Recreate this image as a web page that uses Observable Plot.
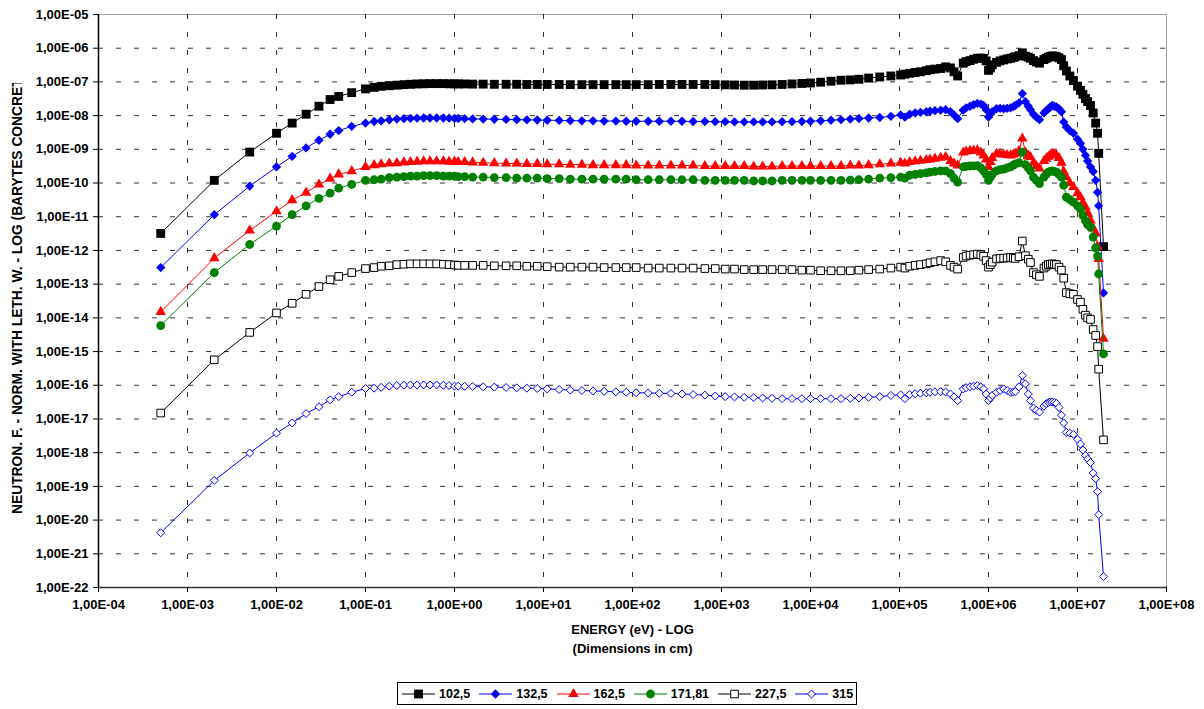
<!DOCTYPE html>
<html><head><meta charset="utf-8">
<script src="https://cdn.jsdelivr.net/npm/d3@7"></script>
<script src="https://cdn.jsdelivr.net/npm/@observablehq/plot@0.6"></script>
<style>
body{margin:0;background:#fff;font-family:"Liberation Sans",Arial,sans-serif;}
#chart svg{display:block;}
#legend{position:relative;margin-left:397px;margin-top:10px;width:460px;height:23px;border:1px solid #000;box-sizing:border-box;display:flex;align-items:center;padding-left:4px;font-weight:bold;font-size:12.5px;}
#legend .item{display:flex;align-items:center;margin-right:9px;}
#legend .item svg{margin-right:4px;}
</style></head><body>
<div id="chart"></div>
<div id="legend"></div>
<script>
// ---- data ----
const energy = [
 5e-4, 2e-3, 5e-3, 1e-2, 1.5e-2, 2.15e-2, 3e-2, 4e-2, 5e-2, 7e-2,
 0.1, 0.125, 0.15, 0.185, 0.225, 0.27, 0.32, 0.38, 0.45, 0.53,
 0.63, 0.75, 0.87, 1.0, 1.1, 1.3, 1.6, 2.1, 2.8, 3.8,
 5, 6.5, 8.5, 11, 15, 20, 27, 36, 48, 65,
 85, 110, 150, 200, 270, 360, 480, 650, 850, 1100,
 1400, 1800, 2300, 2900, 3700, 4800, 6200, 8000, 1e4, 1.3e4,
 1.7e4, 2.2e4, 2.8e4, 3.5e4, 4.5e4, 6e4, 8e4, 1.03e5, 1.15e5, 1.3e5,
 1.5e5, 1.72e5, 2.0e5, 2.2e5, 2.5e5, 2.9e5, 3.3e5, 3.74e5, 4.1e5, 4.5e5,
 5.2e5, 5.6e5, 6.2e5, 6.8e5, 7.5e5, 8.2e5, 8.8e5, 9.4e5, 1.0e6, 1.05e6,
 1.1e6, 1.23e6, 1.35e6, 1.48e6, 1.62e6, 1.77e6, 1.9e6, 2.0e6, 2.2e6, 2.4e6,
 2.6e6, 2.8e6, 2.96e6, 3.2e6, 3.45e6, 3.74e6, 4.2e6, 4.45e6, 4.7e6, 4.95e6,
 5.2e6, 5.5e6, 5.8e6, 6.2e6, 6.6e6, 7.0e6, 7.5e6, 8.2e6, 9.0e6, 1.0e7,
 1.08e7, 1.15e7, 1.23e7, 1.3e7, 1.4e7, 1.5e7, 1.6e7, 1.68e7, 1.73e7, 1.96e7
];
const s102_5 = [
 3.2e-12, 1.2e-10, 8.3e-10, 3.0e-9, 6.0e-9, 1.1e-8, 1.9e-8, 3.0e-8, 3.7e-8, 4.8e-8,
 6.2e-8, 6.9e-8, 7.4e-8, 7.7e-8, 8.0e-8, 8.3e-8, 8.5e-8, 8.7e-8, 8.8e-8, 8.9e-8,
 8.9e-8, 8.9e-8, 8.8e-8, 8.8e-8, 8.7e-8, 8.7e-8, 8.6e-8, 8.6e-8, 8.5e-8, 8.5e-8,
 8.5e-8, 8.4e-8, 8.4e-8, 8.4e-8, 8.4e-8, 8.3e-8, 8.3e-8, 8.3e-8, 8.3e-8, 8.3e-8,
 8.3e-8, 8.3e-8, 8.3e-8, 8.4e-8, 8.4e-8, 8.4e-8, 8.4e-8, 8.4e-8, 8.3e-8, 8.2e-8,
 8.1e-8, 8.0e-8, 8.0e-8, 8.1e-8, 8.2e-8, 8.4e-8, 8.7e-8, 9.0e-8, 9.3e-8, 9.8e-8,
 1.05e-7, 1.12e-7, 1.15e-7, 1.2e-7, 1.3e-7, 1.4e-7, 1.5e-7, 1.6e-7, 1.7e-7, 1.8e-7,
 1.9e-7, 2.0e-7, 2.15e-7, 2.3e-7, 2.4e-7, 2.5e-7, 2.8e-7, 2.6e-7, 2.0e-7, 1.5e-7,
 3.6e-7, 4.0e-7, 4.3e-7, 4.7e-7, 5.0e-7, 5.1e-7, 5.0e-7, 4.2e-7, 2.2e-7, 2.6e-7,
 3.2e-7, 3.8e-7, 4.2e-7, 4.5e-7, 4.8e-7, 5.0e-7, 5.3e-7, 5.6e-7, 6.0e-7, 7.3e-7,
 5.8e-7, 5.4e-7, 5.0e-7, 4.3e-7, 3.9e-7, 3.6e-7, 4.6e-7, 5.0e-7, 5.4e-7, 5.7e-7,
 5.9e-7, 5.8e-7, 5.6e-7, 5.2e-7, 4.6e-7, 3.0e-7, 2.1e-7, 1.5e-7, 1.1e-7, 7.5e-8,
 5.6e-8, 4.3e-8, 3.2e-8, 2.6e-8, 2.0e-8, 1.2e-8, 6.0e-9, 3.0e-9, 7.6e-10, 1.3e-12
];
const s132_5 = [
 3.1e-13, 1.15e-11, 8.1e-11, 3.0e-10, 6.2e-10, 1.1e-9, 1.86e-9, 2.8e-9, 3.6e-9, 4.8e-9,
 6.0e-9, 6.7e-9, 7.0e-9, 7.5e-9, 7.9e-9, 8.1e-9, 8.3e-9, 8.4e-9, 8.5e-9, 8.5e-9,
 8.5e-9, 8.5e-9, 8.4e-9, 8.3e-9, 8.2e-9, 8.1e-9, 8.0e-9, 7.9e-9, 7.8e-9, 7.7e-9,
 7.6e-9, 7.5e-9, 7.4e-9, 7.3e-9, 7.2e-9, 7.1e-9, 7.0e-9, 7.0e-9, 6.9e-9, 6.9e-9,
 6.8e-9, 6.8e-9, 6.8e-9, 6.8e-9, 6.8e-9, 6.8e-9, 6.7e-9, 6.7e-9, 6.6e-9, 6.6e-9,
 6.5e-9, 6.5e-9, 6.5e-9, 6.5e-9, 6.5e-9, 6.6e-9, 6.6e-9, 6.7e-9, 6.8e-9, 7.0e-9,
 7.3e-9, 7.6e-9, 7.9e-9, 8.2e-9, 8.5e-9, 8.8e-9, 9.5e-9, 1.05e-8, 9.0e-9, 1.1e-8,
 1.2e-8, 1.25e-8, 1.3e-8, 1.35e-8, 1.4e-8, 1.45e-8, 1.5e-8, 1.3e-8, 1.05e-8, 8.1e-9,
 1.45e-8, 1.7e-8, 1.9e-8, 2.1e-8, 2.3e-8, 2.2e-8, 2.0e-8, 1.5e-8, 9.1e-9, 1.1e-8,
 1.3e-8, 1.6e-8, 1.65e-8, 1.6e-8, 1.65e-8, 1.7e-8, 1.85e-8, 2.0e-8, 2.4e-8, 4.5e-8,
 2.6e-8, 1.9e-8, 1.5e-8, 1.1e-8, 9.0e-9, 7.6e-9, 1.2e-8, 1.4e-8, 1.6e-8, 1.8e-8,
 2.0e-8, 1.9e-8, 1.8e-8, 1.6e-8, 1.3e-8, 6.5e-9, 4.6e-9, 3.6e-9, 3.0e-9, 2.0e-9,
 1.5e-9, 1.0e-9, 6.6e-10, 4.5e-10, 3.0e-10, 2.2e-10, 1.2e-10, 5.3e-11, 2.1e-11, 5.5e-14
];
const s162_5 = [
 1.5e-14, 5.9e-13, 3.9e-12, 1.45e-11, 3.1e-11, 5.2e-11, 9.0e-11, 1.35e-10, 1.8e-10, 2.25e-10,
 3.0e-10, 3.4e-10, 3.6e-10, 3.8e-10, 3.9e-10, 4.1e-10, 4.2e-10, 4.3e-10, 4.4e-10, 4.4e-10,
 4.4e-10, 4.4e-10, 4.3e-10, 4.3e-10, 4.2e-10, 4.2e-10, 4.1e-10, 4.0e-10, 3.9e-10, 3.8e-10,
 3.8e-10, 3.7e-10, 3.7e-10, 3.6e-10, 3.6e-10, 3.5e-10, 3.5e-10, 3.4e-10, 3.4e-10, 3.4e-10,
 3.4e-10, 3.3e-10, 3.3e-10, 3.3e-10, 3.3e-10, 3.3e-10, 3.3e-10, 3.2e-10, 3.2e-10, 3.2e-10,
 3.2e-10, 3.2e-10, 3.1e-10, 3.1e-10, 3.1e-10, 3.2e-10, 3.2e-10, 3.2e-10, 3.2e-10, 3.2e-10,
 3.2e-10, 3.2e-10, 3.3e-10, 3.3e-10, 3.4e-10, 3.6e-10, 3.8e-10, 4.0e-10, 3.8e-10, 4.2e-10,
 4.4e-10, 4.6e-10, 4.8e-10, 5.0e-10, 5.3e-10, 5.6e-10, 5.9e-10, 4.5e-10, 3.8e-10, 3.3e-10,
 8.0e-10, 8.6e-10, 9.0e-10, 9.2e-10, 9.3e-10, 8.0e-10, 6.6e-10, 5.0e-10, 3.0e-10, 4.2e-10,
 5.5e-10, 7.4e-10, 7.2e-10, 7.0e-10, 6.8e-10, 6.6e-10, 7.0e-10, 7.4e-10, 9.0e-10, 2.1e-9,
 8.0e-10, 6.5e-10, 5.9e-10, 4.0e-10, 3.2e-10, 2.7e-10, 4.5e-10, 5.3e-10, 6.0e-10, 6.8e-10,
 7.4e-10, 7.0e-10, 6.6e-10, 5.5e-10, 4.0e-10, 2.2e-10, 1.5e-10, 1.0e-10, 7.6e-11, 5.0e-11,
 3.8e-11, 2.6e-11, 1.9e-11, 1.3e-11, 7.8e-12, 4.5e-12, 3.2e-12, 1.3e-12, 5.6e-13, 2.4e-15
];
const s171_81 = [
 5.9e-15, 2.2e-13, 1.5e-12, 5.3e-12, 1.15e-11, 2.1e-11, 3.5e-11, 5.0e-11, 7.1e-11, 9.1e-11,
 1.2e-10, 1.25e-10, 1.3e-10, 1.45e-10, 1.5e-10, 1.55e-10, 1.6e-10, 1.6e-10, 1.65e-10, 1.65e-10,
 1.65e-10, 1.6e-10, 1.6e-10, 1.6e-10, 1.55e-10, 1.55e-10, 1.5e-10, 1.5e-10, 1.45e-10, 1.45e-10,
 1.4e-10, 1.4e-10, 1.4e-10, 1.35e-10, 1.35e-10, 1.3e-10, 1.3e-10, 1.3e-10, 1.3e-10, 1.3e-10,
 1.3e-10, 1.25e-10, 1.25e-10, 1.25e-10, 1.25e-10, 1.25e-10, 1.25e-10, 1.2e-10, 1.2e-10, 1.2e-10,
 1.2e-10, 1.2e-10, 1.15e-10, 1.15e-10, 1.15e-10, 1.2e-10, 1.2e-10, 1.2e-10, 1.2e-10, 1.2e-10,
 1.2e-10, 1.2e-10, 1.22e-10, 1.25e-10, 1.3e-10, 1.4e-10, 1.45e-10, 1.5e-10, 1.4e-10, 1.7e-10,
 1.8e-10, 1.9e-10, 2.0e-10, 2.1e-10, 2.2e-10, 2.3e-10, 2.3e-10, 1.9e-10, 1.4e-10, 1.07e-10,
 3.0e-10, 3.1e-10, 3.2e-10, 3.25e-10, 3.3e-10, 2.8e-10, 2.3e-10, 1.8e-10, 1.2e-10, 1.5e-10,
 1.8e-10, 2.3e-10, 2.5e-10, 2.6e-10, 2.8e-10, 3.0e-10, 3.4e-10, 3.7e-10, 4.0e-10, 8.3e-10,
 3.5e-10, 2.8e-10, 2.3e-10, 1.5e-10, 1.2e-10, 9.6e-11, 1.5e-10, 1.8e-10, 2.1e-10, 2.2e-10,
 2.3e-10, 2.2e-10, 2.1e-10, 1.8e-10, 1.5e-10, 8.6e-11, 3.8e-11, 3.2e-11, 2.7e-11, 2.1e-11,
 1.7e-11, 1.1e-11, 7.6e-12, 5.8e-12, 4.9e-12, 2.5e-12, 1.2e-12, 6.8e-13, 2.0e-13, 8.5e-16
];
const s227_5 = [
 1.5e-17, 5.7e-16, 3.7e-15, 1.4e-14, 2.7e-14, 5.0e-14, 8.5e-14, 1.35e-13, 1.7e-13, 2.2e-13,
 2.9e-13, 3.1e-13, 3.4e-13, 3.5e-13, 3.8e-13, 3.9e-13, 4.0e-13, 4.0e-13, 4.0e-13, 4.0e-13,
 4.0e-13, 3.9e-13, 3.8e-13, 3.7e-13, 3.6e-13, 3.6e-13, 3.6e-13, 3.6e-13, 3.5e-13, 3.5e-13,
 3.5e-13, 3.4e-13, 3.4e-13, 3.3e-13, 3.2e-13, 3.2e-13, 3.2e-13, 3.2e-13, 3.1e-13, 3.1e-13,
 3.1e-13, 3.1e-13, 3.0e-13, 3.0e-13, 3.0e-13, 3.0e-13, 3.0e-13, 2.9e-13, 2.9e-13, 2.8e-13,
 2.8e-13, 2.7e-13, 2.7e-13, 2.7e-13, 2.7e-13, 2.7e-13, 2.7e-13, 2.6e-13, 2.6e-13, 2.5e-13,
 2.5e-13, 2.5e-13, 2.5e-13, 2.6e-13, 2.7e-13, 2.8e-13, 3.0e-13, 3.2e-13, 3.0e-13, 3.4e-13,
 3.6e-13, 3.8e-13, 4.0e-13, 4.3e-13, 4.6e-13, 5.0e-13, 4.6e-13, 3.6e-13, 3.2e-13, 2.8e-13,
 6.2e-13, 6.8e-13, 7.2e-13, 7.5e-13, 7.8e-13, 7.4e-13, 6.7e-13, 5.0e-13, 3.2e-13, 3.8e-13,
 4.5e-13, 5.6e-13, 5.8e-13, 5.9e-13, 6.0e-13, 6.2e-13, 6.0e-13, 5.8e-13, 6.5e-13, 1.9e-12,
 7.0e-13, 5.5e-13, 4.4e-13, 2.2e-13, 1.9e-13, 1.7e-13, 3.0e-13, 3.4e-13, 3.8e-13, 3.9e-13,
 4.0e-13, 3.9e-13, 3.8e-13, 3.2e-13, 2.6e-13, 1.5e-13, 5.6e-14, 5.2e-14, 5.0e-14, 3.5e-14,
 2.9e-14, 1.8e-14, 1.2e-14, 1.0e-14, 9.0e-15, 4.5e-15, 3.0e-15, 1.4e-15, 3.0e-16, 2.4e-18
];
const s315 = [
 4.2e-21, 1.5e-19, 9.8e-19, 3.8e-18, 7.6e-18, 1.45e-17, 2.3e-17, 3.7e-17, 4.6e-17, 6.2e-17,
 8.0e-17, 8.2e-17, 8.7e-17, 9.4e-17, 9.8e-17, 1.0e-16, 1.02e-16, 1.02e-16, 1.02e-16, 1.02e-16,
 1.02e-16, 1.0e-16, 9.8e-17, 9.4e-17, 9.4e-17, 9.3e-17, 9.2e-17, 9.0e-17, 8.8e-17, 8.6e-17,
 8.4e-17, 8.2e-17, 8.0e-17, 7.8e-17, 7.5e-17, 7.2e-17, 7.0e-17, 6.8e-17, 6.6e-17, 6.4e-17,
 6.2e-17, 6.0e-17, 5.9e-17, 5.8e-17, 5.7e-17, 5.5e-17, 5.3e-17, 5.1e-17, 4.8e-17, 4.6e-17,
 4.5e-17, 4.4e-17, 4.3e-17, 4.2e-17, 4.1e-17, 4.0e-17, 4.0e-17, 4.0e-17, 4.0e-17, 4.0e-17,
 4.0e-17, 4.0e-17, 4.1e-17, 4.2e-17, 4.4e-17, 4.6e-17, 5.0e-17, 5.2e-17, 4.0e-17, 5.3e-17,
 5.6e-17, 5.8e-17, 6.0e-17, 6.2e-17, 6.4e-17, 6.5e-17, 6.3e-17, 5.5e-17, 4.5e-17, 3.5e-17,
 7.8e-17, 8.5e-17, 9.0e-17, 9.4e-17, 9.8e-17, 9.0e-17, 7.8e-17, 5.5e-17, 3.5e-17, 4.2e-17,
 5.0e-17, 6.2e-17, 7.0e-17, 7.8e-17, 7.0e-17, 6.2e-17, 6.3e-17, 6.5e-17, 9.0e-17, 1.95e-16,
 1.1e-16, 5.5e-17, 3.5e-17, 2.1e-17, 1.8e-17, 1.6e-17, 2.4e-17, 2.8e-17, 3.1e-17, 3.2e-17,
 3.2e-17, 3.1e-17, 2.9e-17, 2.2e-17, 1.3e-17, 7.6e-18, 4.0e-18, 3.8e-18, 3.5e-18, 2.5e-18,
 1.8e-18, 1.2e-18, 8.2e-19, 6.5e-19, 5.1e-19, 2.5e-19, 1.7e-19, 7.0e-20, 1.45e-20, 2.1e-22
];
const seriesNames = ["102,5", "132,5", "162,5", "171,81", "227,5", "315"];
const xTicks = [1e-4, 1e-3, 1e-2, 1e-1, 1e0, 1e1, 1e2, 1e3, 1e4, 1e5, 1e6, 1e7, 1e8];
const xTickLabels = ["1,00E-04","1,00E-03","1,00E-02","1,00E-01","1,00E+00","1,00E+01","1,00E+02","1,00E+03","1,00E+04","1,00E+05","1,00E+06","1,00E+07","1,00E+08"];
const yTicks = [1e-22,1e-21,1e-20,1e-19,1e-18,1e-17,1e-16,1e-15,1e-14,1e-13,1e-12,1e-11,1e-10,1e-9,1e-8,1e-7,1e-6,1e-5];
const yTickLabels = ["1,00E-22","1,00E-21","1,00E-20","1,00E-19","1,00E-18","1,00E-17","1,00E-16","1,00E-15","1,00E-14","1,00E-13","1,00E-12","1,00E-11","1,00E-10","1,00E-09","1,00E-08","1,00E-07","1,00E-06","1,00E-05"];
const xTitle = "ENERGY (eV) - LOG";
const xSubTitle = "(Dimensions in cm)";
const yTitle = "NEUTRON. F. - NORM. WITH LETH. W. - LOG (BARYTES CONCRET";

// ---- styles ----
const seriesValues = [s102_5, s132_5, s162_5, s171_81, s227_5, s315];
const styles = [
  {color:"#000000", symbol:"square",   filled:true,  r:5.0},
  {color:"#0000ff", symbol:"diamond2", filled:true,  r:4.2},
  {color:"#ff0000", symbol:"triangle", filled:true,  r:3.9},
  {color:"#008000", symbol:"circle",   filled:true,  r:4.4},
  {color:"#000000", symbol:"square",   filled:false, r:4.3},
  {color:"#0000ff", symbol:"diamond2", filled:false, r:3.6}
];

const marks = [
  Plot.frame({stroke:"#a0a0a0"}),
  Plot.gridX({ticks: xTicks.slice(1, -1), stroke:"#000", strokeOpacity:0.8, strokeDasharray:"5,13"}),
  Plot.gridY({ticks: yTicks.slice(1, -1), stroke:"#000", strokeOpacity:0.8, strokeDasharray:"5,13"}),
  Plot.ruleX([1e-4], {stroke:"#000", strokeWidth:1.5}),
  Plot.ruleY([1e-22], {stroke:"#333", strokeWidth:1.5}),
  Plot.axisX({ticks: xTicks, tickFormat: d => xTickLabels[xTicks.indexOf(d)], tickSize:5, tickPadding:7, label:null}),
  Plot.axisY({ticks: yTicks, tickFormat: d => yTickLabels[yTicks.indexOf(d)], tickSize:5, tickPadding:5, label:null}),
  Plot.text([xTitle], {text: d => d, frameAnchor:"bottom", dy:46, fontSize:13, fontWeight:"bold"}),
  Plot.text([xSubTitle], {text: d => d, frameAnchor:"bottom", dy:65, fontSize:13, fontWeight:"bold"})
];
seriesValues.forEach((vals, k) => {
  const st = styles[k];
  const data = energy.map((e, i) => ({e, v: vals[i]}));
  marks.push(Plot.line(data, {x:"e", y:"v", stroke: st.color, strokeWidth:1}));
  marks.push(Plot.dot(data, {x:"e", y:"v", symbol: st.symbol, r: st.r,
    fill: st.filled ? st.color : "white", stroke: st.filled ? "none" : st.color, strokeWidth:1}));
});

const chart = Plot.plot({
  width:1204, height:672,
  marginLeft:98, marginRight:38, marginTop:14, marginBottom:85,
  x:{type:"log", domain:[1e-4, 1e8]},
  y:{type:"log", domain:[1e-22, 1e-5]},
  style:{fontFamily:"'Liberation Sans', Arial, sans-serif", fontSize:"13px", fontWeight:"bold", background:"white", color:"black"},
  marks
});
document.getElementById("chart").appendChild(chart);

// y-axis title (clipped at the top like the original)
const svg = d3.select(chart);
svg.append("clipPath").attr("id","ytclip").append("rect").attr("x",0).attr("y",83).attr("width",60).attr("height",600);
svg.append("g").attr("clip-path","url(#ytclip)")
  .append("text")
  .attr("transform","translate(21.5,514) rotate(-90)")
  .attr("text-anchor","start")
  .attr("font-size",13.8).attr("font-weight","bold").attr("fill","#000")
  .text(yTitle);

// legend
const legend = d3.select("#legend");
const symMap = {square:d3.symbolSquare, diamond2:d3.symbolDiamond2, triangle:d3.symbolTriangle, circle:d3.symbolCircle};
seriesNames.forEach((name, k) => {
  const st = styles[k];
  const item = legend.append("div").attr("class","item");
  const s = item.append("svg").attr("width",33).attr("height",14);
  s.append("line").attr("x1",0).attr("x2",33).attr("y1",7).attr("y2",7).attr("stroke",st.color).attr("stroke-width",1);
  const area = Math.PI * st.r * st.r;
  if (st.symbol === "circle") {
    s.append("circle").attr("cx",16.5).attr("cy",7).attr("r",st.r).attr("fill",st.color);
  } else {
    s.append("path").attr("transform","translate(16.5,7)")
      .attr("d", d3.symbol(symMap[st.symbol], area)())
      .attr("fill", st.filled ? st.color : "white")
      .attr("stroke", st.filled ? "none" : st.color);
  }
  item.append("span").text(name);
});
</script>
</body></html>
